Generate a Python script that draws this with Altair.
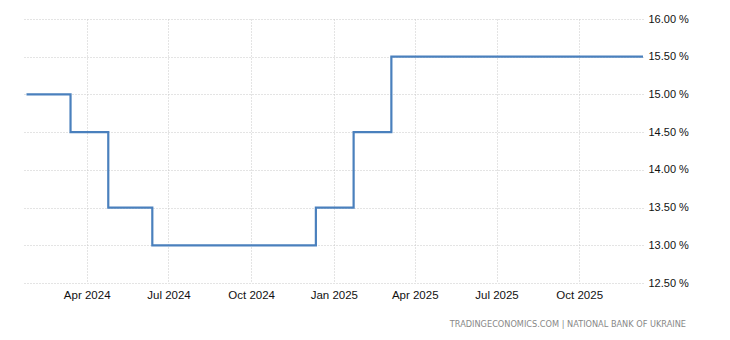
import altair as alt
import pandas as pd

dates = ["2024-01-25", "2024-03-14", "2024-04-25", "2024-06-13", "2024-07-25",
         "2024-09-12", "2024-10-24", "2024-12-12", "2025-01-23", "2025-03-06",
         "2025-04-17", "2025-06-05", "2025-07-24", "2025-09-11", "2025-10-23",
         "2025-12-11"]
rates = [15.0, 14.5, 13.5, 13.0, 13.0, 13.0, 13.0, 13.5, 14.5, 15.5,
         15.5, 15.5, 15.5, 15.5, 15.5, 15.5]
x_ticks = ["2024-04-01", "2024-07-01", "2024-10-01", "2025-01-01",
           "2025-04-01", "2025-07-01", "2025-10-01"]
y_ticks = [12.5, 13.0, 13.5, 14.0, 14.5, 15.0, 15.5, 16.0]
source = "TRADINGECONOMICS.COM  |  NATIONAL BANK OF UKRAINE"

df = pd.DataFrame({"date": pd.to_datetime(dates), "rate": rates})

FONT = "Liberation Sans"

x_enc = alt.X(
    "date:T",
    scale=alt.Scale(domain=[{"year": 2024, "month": 1, "date": 20},
                            {"year": 2025, "month": 12, "date": 11}]),
    axis=alt.Axis(
        values=[pd.Timestamp(t).isoformat() for t in x_ticks],
        format="%b %Y", title=None, domain=False, ticks=False,
        labelFont=FONT, labelFontSize=11.5, labelColor="#111111",
        labelPadding=6, grid=True, gridColor="#c8c8c8", gridDash=[1, 2],
        gridWidth=1, labelFlush=False,
    ),
)
y_enc = alt.Y(
    "rate:Q",
    scale=alt.Scale(domain=[12.5, 16.0], nice=False, zero=False),
    axis=alt.Axis(
        orient="right", values=y_ticks, title=None, domain=False, ticks=False,
        labelExpr="format(datum.value, '.2f') + ' %'",
        labelFont=FONT, labelFontSize=11, labelColor="#111111",
        labelPadding=5, grid=True, gridColor="#c8c8c8", gridDash=[1, 2],
        gridWidth=1,
    ),
)

line = alt.Chart(df).mark_line(
    interpolate="step-after", color="#4a80bd", strokeWidth=2.2
).encode(x=x_enc, y=y_enc)

src = alt.Chart(pd.DataFrame({"t": [source]})).mark_text(
    align="right", baseline="middle", font="DejaVu Sans", fontSize=8.2,
    color="#888888"
).encode(text="t:N", x=alt.value(664), y=alt.value(306))

chart = alt.layer(line, src).properties(
    width=621, height=264,
    autosize="none",
    padding={"left": 22, "top": 19, "right": 87, "bottom": 57},
).configure(background="white").configure_view(stroke=None, strokeWidth=0)

chart.save("out.html", embed_options={"renderer": "svg", "actions": False})
